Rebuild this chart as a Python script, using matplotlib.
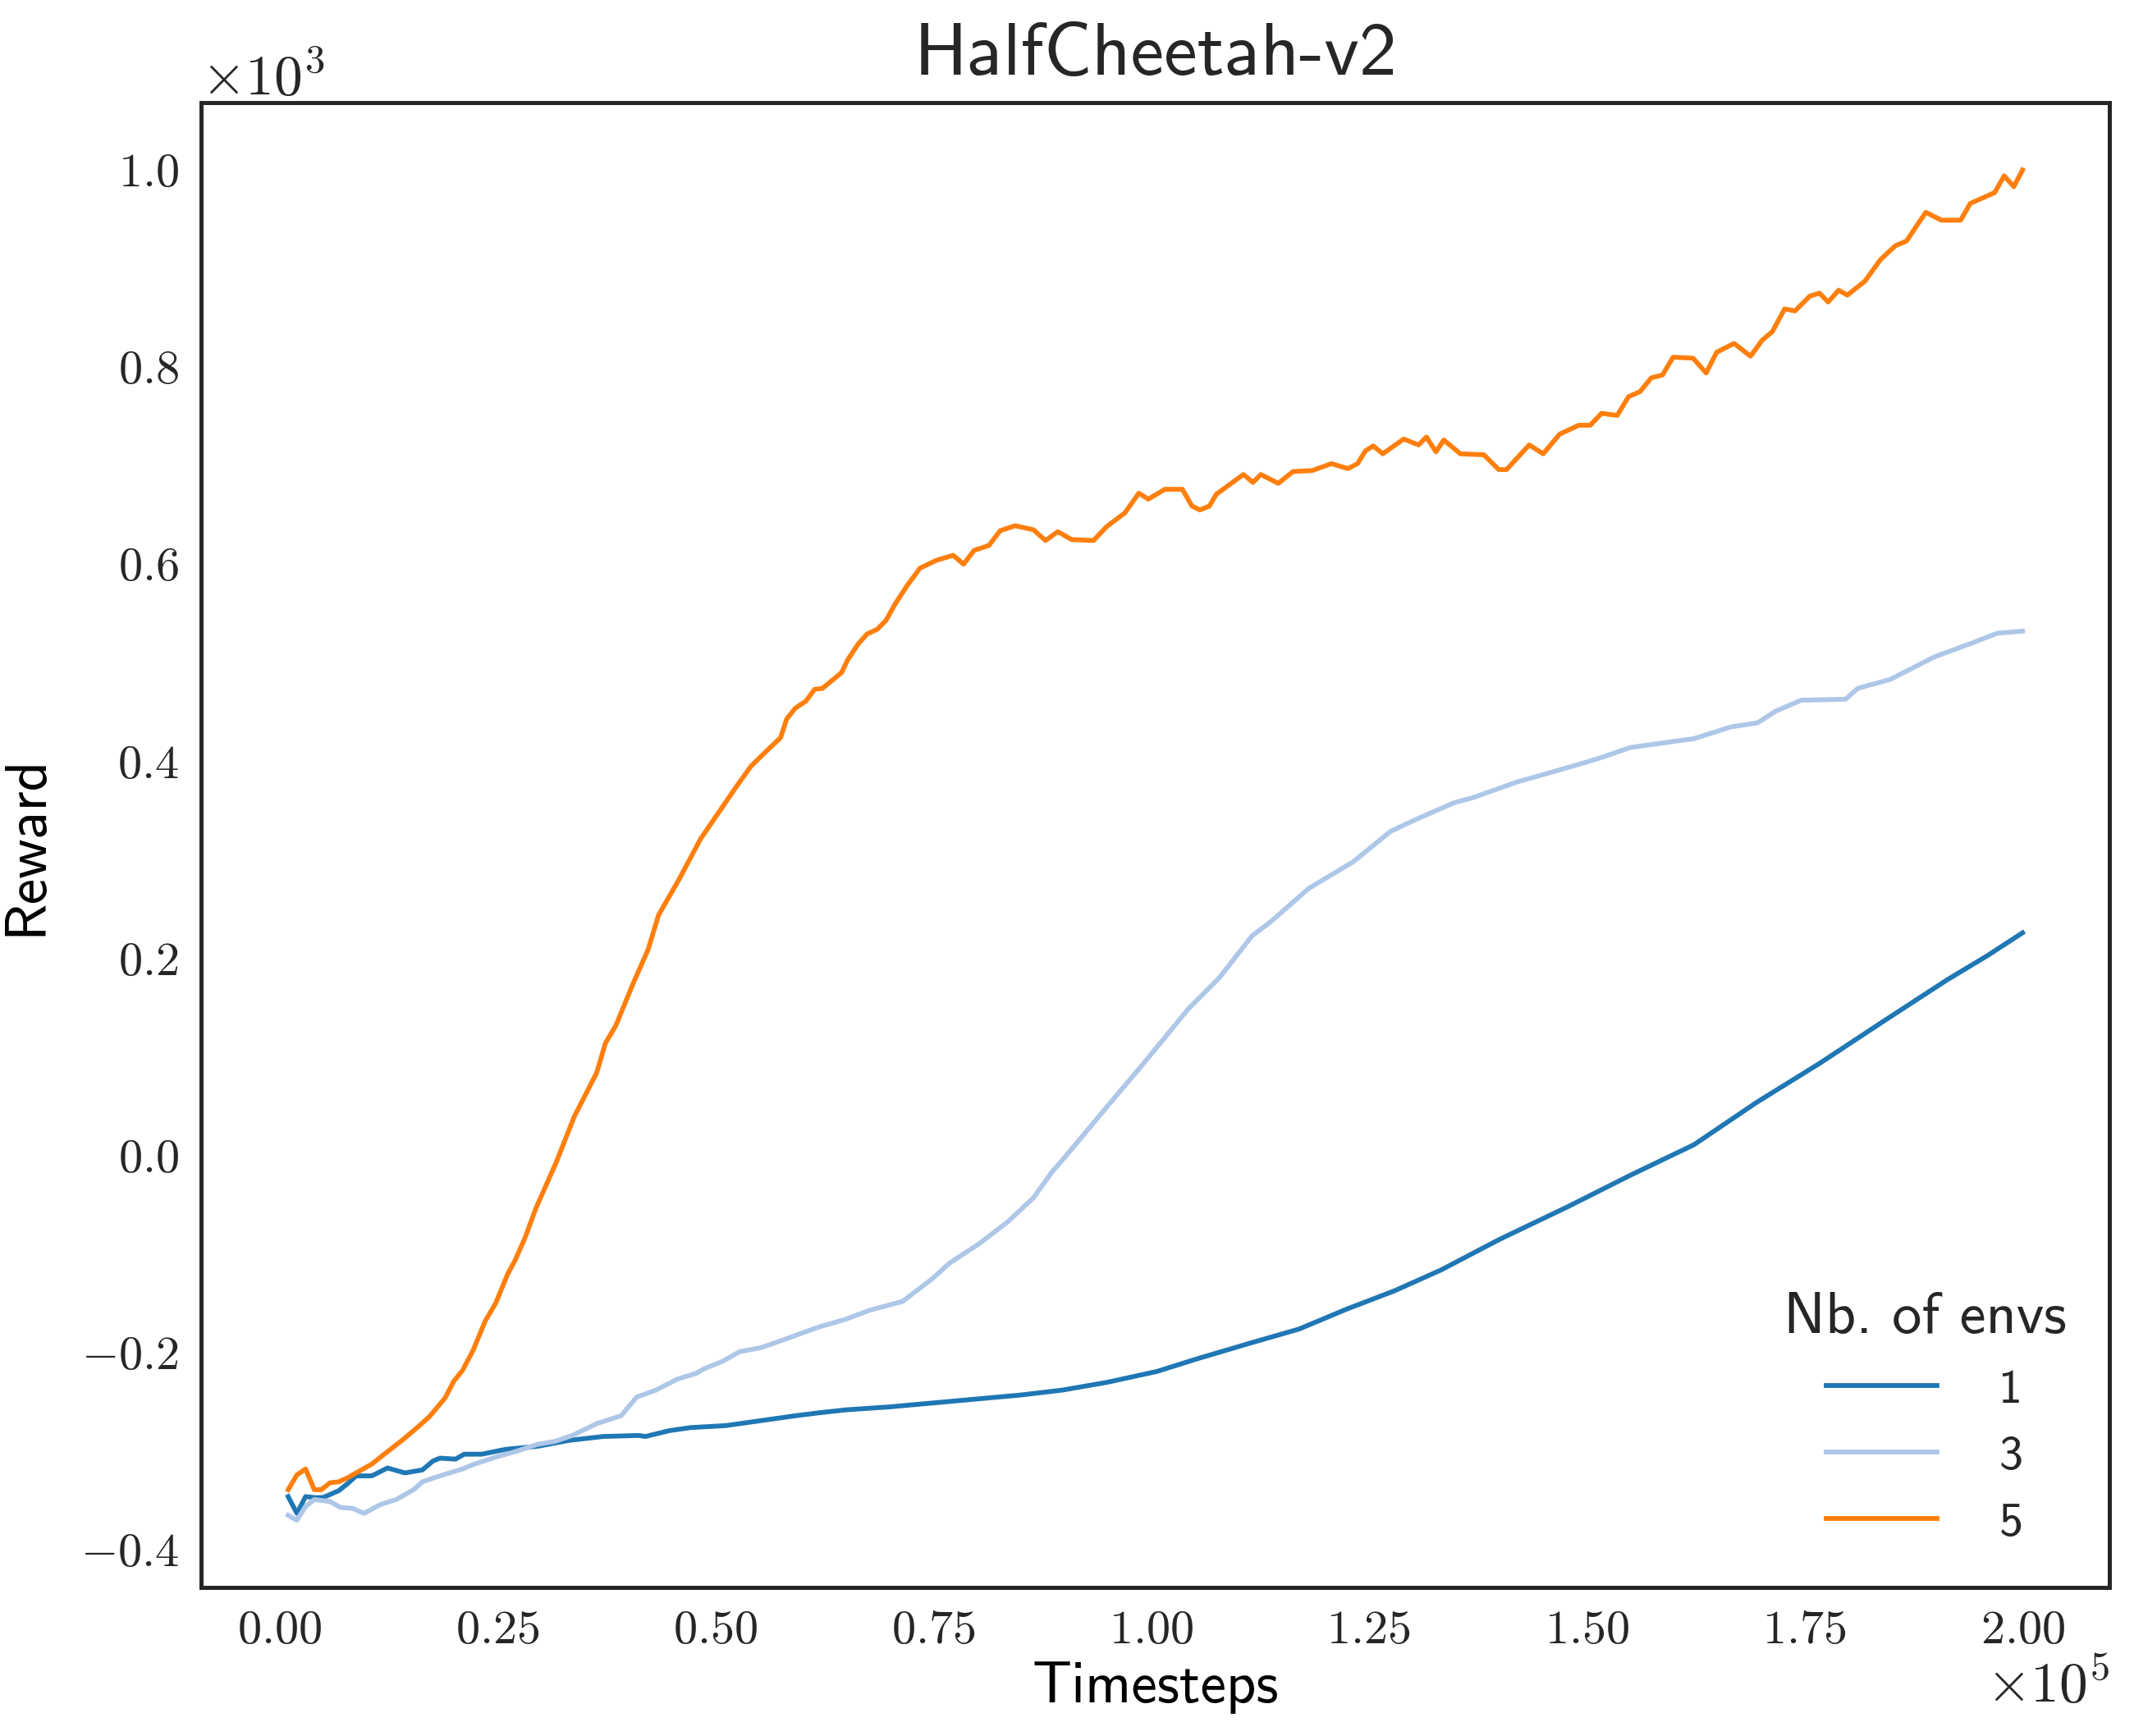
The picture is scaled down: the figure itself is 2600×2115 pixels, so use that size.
import numpy as np
import matplotlib
matplotlib.use("Agg")
from matplotlib import pyplot as plt

# values (timesteps in 1e5, reward in 1e3)
t_5 = [0.01, 0.02, 0.03, 0.04, 0.048, 0.058, 0.068, 0.078, 0.088, 0.106, 0.126, 0.142,
       0.158, 0.172, 0.19, 0.20, 0.21, 0.222, 0.236, 0.248, 0.262, 0.270, 0.282, 0.294,
       0.318, 0.338, 0.364, 0.374, 0.386, 0.406, 0.423, 0.435, 0.459, 0.483, 0.507, 0.524,
       0.541, 0.556, 0.575, 0.582, 0.592, 0.604, 0.614, 0.623, 0.645, 0.652, 0.664, 0.674,
       0.686, 0.696, 0.706, 0.720, 0.735, 0.754, 0.773, 0.785, 0.797, 0.814, 0.827, 0.844,
       0.865, 0.879, 0.893, 0.909, 0.934, 0.949, 0.970, 0.986, 0.997, 1.016, 1.036, 1.047,
       1.056, 1.067, 1.075, 1.106, 1.117, 1.126, 1.146, 1.163, 1.185, 1.207, 1.226, 1.237,
       1.246, 1.255, 1.266, 1.290, 1.307, 1.316, 1.327, 1.336, 1.355, 1.382, 1.399, 1.408,
       1.434, 1.450, 1.469, 1.491, 1.504, 1.517, 1.535, 1.548, 1.561, 1.574, 1.587, 1.599,
       1.622, 1.637, 1.649, 1.669, 1.688, 1.701, 1.713, 1.727, 1.739, 1.756, 1.767, 1.777,
       1.789, 1.799, 1.819, 1.837, 1.854, 1.867, 1.876, 1.889, 1.907, 1.929, 1.940, 1.968,
       1.979, 1.990, 2.000]
r_5 = [-0.339, -0.324, -0.318, -0.339, -0.339, -0.332, -0.331, -0.327, -0.322, -0.313, -0.299, -0.288,
       -0.276, -0.265, -0.246, -0.229, -0.218, -0.198, -0.168, -0.150, -0.120, -0.107, -0.083, -0.054,
       -0.006, 0.039, 0.084, 0.114, 0.132, 0.175, 0.209, 0.244, 0.281, 0.321, 0.352, 0.374,
       0.395, 0.408, 0.424, 0.443, 0.454, 0.461, 0.473, 0.474, 0.490, 0.503, 0.519, 0.529,
       0.534, 0.543, 0.559, 0.578, 0.596, 0.604, 0.609, 0.600, 0.614, 0.619, 0.634, 0.639,
       0.635, 0.624, 0.633, 0.625, 0.624, 0.638, 0.652, 0.672, 0.666, 0.676, 0.676, 0.659,
       0.655, 0.659, 0.671, 0.691, 0.683, 0.691, 0.682, 0.694, 0.695, 0.702, 0.697, 0.702,
       0.715, 0.720, 0.712, 0.727, 0.721, 0.729, 0.714, 0.726, 0.712, 0.711, 0.696, 0.696,
       0.721, 0.712, 0.732, 0.741, 0.741, 0.753, 0.751, 0.770, 0.775, 0.789, 0.792, 0.810,
       0.809, 0.794, 0.815, 0.824, 0.811, 0.827, 0.836, 0.859, 0.857, 0.872, 0.875, 0.866,
       0.878, 0.873, 0.887, 0.909, 0.923, 0.928, 0.940, 0.957, 0.949, 0.949, 0.966, 0.977,
       0.994, 0.983, 1.000]

t_3 = [0.01, 0.02, 0.03, 0.04, 0.058, 0.07, 0.084, 0.097, 0.116, 0.134, 0.154, 0.164,
       0.184, 0.21, 0.224, 0.248, 0.272, 0.296, 0.316, 0.336, 0.364, 0.392, 0.41, 0.432,
       0.456, 0.478, 0.488, 0.508, 0.528, 0.552, 0.572, 0.60, 0.619, 0.65, 0.677, 0.715,
       0.749, 0.769, 0.802, 0.836, 0.865, 0.887, 0.898, 0.949, 0.992, 1.043, 1.079, 1.116,
       1.137, 1.181, 1.232, 1.275, 1.304, 1.348, 1.369, 1.42, 1.464, 1.514, 1.55, 1.623,
       1.666, 1.696, 1.717, 1.746, 1.797, 1.811, 1.848, 1.899, 1.942, 1.971, 2.0]
r_3 = [-0.365, -0.370, -0.356, -0.349, -0.351, -0.357, -0.358, -0.363, -0.354, -0.349, -0.339, -0.331,
       -0.325, -0.318, -0.313, -0.306, -0.300, -0.293, -0.290, -0.284, -0.272, -0.264, -0.245, -0.238,
       -0.227, -0.221, -0.216, -0.209, -0.199, -0.195, -0.189, -0.180, -0.174, -0.166, -0.157, -0.148,
       -0.125, -0.109, -0.090, -0.067, -0.043, -0.016, -0.005, 0.049, 0.094, 0.149, 0.181, 0.223,
       0.237, 0.271, 0.298, 0.329, 0.341, 0.358, 0.363, 0.379, 0.390, 0.403, 0.414, 0.423,
       0.435, 0.439, 0.451, 0.462, 0.463, 0.474, 0.483, 0.506, 0.520, 0.530, 0.532]

t_1 = [0.01, 0.02, 0.03, 0.04, 0.05, 0.068, 0.078, 0.088, 0.106, 0.124, 0.144, 0.164,
       0.176, 0.184, 0.202, 0.212, 0.232, 0.26, 0.296, 0.332, 0.372, 0.412, 0.42, 0.448,
       0.472, 0.512, 0.552, 0.592, 0.619, 0.65, 0.70, 0.75, 0.80, 0.85, 0.898, 0.95,
       1.007, 1.05, 1.115, 1.17, 1.224, 1.28, 1.333, 1.40, 1.478, 1.55, 1.623, 1.695,
       1.768, 1.84, 1.913, 1.96, 2.0]
r_1 = [-0.346, -0.363, -0.346, -0.347, -0.347, -0.340, -0.333, -0.325, -0.325, -0.317, -0.322, -0.319,
       -0.310, -0.307, -0.308, -0.303, -0.303, -0.298, -0.295, -0.289, -0.285, -0.284, -0.285, -0.279,
       -0.276, -0.274, -0.269, -0.264, -0.261, -0.258, -0.255, -0.251, -0.247, -0.243, -0.238, -0.230,
       -0.219, -0.207, -0.190, -0.176, -0.156, -0.137, -0.116, -0.085, -0.052, -0.020, 0.011, 0.054,
       0.094, 0.136, 0.178, 0.203, 0.226]

series = [("1", t_1, r_1, "#1f77b4"),
          ("3", t_3, r_3, "#aec7e8"),
          ("5", t_5, r_5, "#ff7f0e")]

plt.rcParams["font.family"] = "cmr10"
plt.rcParams["mathtext.fontset"] = "cm"
plt.rcParams["axes.formatter.use_mathtext"] = True
plt.rcParams["text.color"] = "#262626"
plt.rcParams["xtick.color"] = "#262626"
plt.rcParams["ytick.color"] = "#262626"

sans = "cmss10"

fig = plt.figure(figsize=(13, 10.575), dpi=200)
ax = fig.add_axes([0.0944, 0.0854, 0.894, 0.8556])

for name, t, r, c in series:
    ax.plot(np.asarray(t) * 1e5, np.asarray(r) * 1e3, color=c, lw=2.1, label=name)

ax.ticklabel_format(style="sci", scilimits=(0, 0), useMathText=True)
ax.tick_params(length=0, labelsize=21, pad=10)
ax.xaxis.get_offset_text().set_fontsize(25)
ax.yaxis.get_offset_text().set_fontsize(25)
ax.set_xticks(np.arange(0, 200001, 25000))
ax.set_yticks(np.arange(-400, 1001, 200))
for sp in ax.spines.values():
    sp.set_color("#262626")
    sp.set_linewidth(1.8)

ax.set_title("HalfCheetah-v2", fontfamily=sans, fontsize=33, pad=12)
ax.set_xlabel("Timesteps", fontfamily=sans, fontsize=25.5)
ax.set_ylabel("Reward", fontfamily=sans, fontsize=25.5, labelpad=12)

leg = ax.legend(title="Nb. of envs", loc="lower right", frameon=False,
                prop={"family": sans, "size": 21}, handlelength=2.3,
                handletextpad=1.3)
leg.get_title().set_fontfamily(sans)
leg.get_title().set_fontsize(26)

fig.savefig("out.png", dpi=200)
